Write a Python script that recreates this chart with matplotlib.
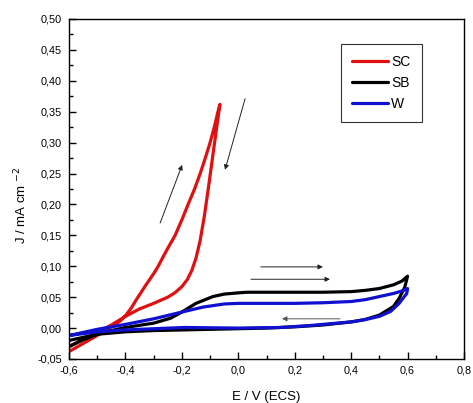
import matplotlib
matplotlib.use("Agg")
import matplotlib.pyplot as plt
from matplotlib.ticker import MultipleLocator, FuncFormatter

plt.rcParams['font.family'] = ['Liberation Sans', 'DejaVu Sans']

# ---- data (E / V vs ECS, J / mA cm-2) ----
sc_fwd_E = [-0.60, -0.55, -0.50, -0.45, -0.42, -0.40, -0.38, -0.36, -0.33, -0.30, -0.284, -0.255,
            -0.224, -0.20, -0.178, -0.155, -0.135, -0.117, -0.10, -0.085, -0.072, -0.065]
sc_fwd_J = [-0.038, -0.025, -0.012, 0.002, 0.011, 0.020, 0.032, 0.047, 0.068, 0.088, 0.100, 0.125,
            0.150, 0.175, 0.200, 0.225, 0.250, 0.275, 0.300, 0.325, 0.350, 0.362]
sc_bwd_E = [-0.065, -0.075, -0.09, -0.105, -0.12, -0.135, -0.15, -0.165, -0.18, -0.20, -0.225,
            -0.25, -0.30, -0.35, -0.40, -0.45, -0.50, -0.55, -0.60]
sc_bwd_J = [0.362, 0.330, 0.280, 0.230, 0.182, 0.142, 0.113, 0.093, 0.079, 0.067, 0.057,
            0.050, 0.040, 0.031, 0.019, 0.005, -0.007, -0.018, -0.030]

sb_fwd_E = [-0.60, -0.55, -0.50, -0.45, -0.40, -0.30, -0.24, -0.20, -0.15, -0.09, -0.05, 0.00,
            0.03, 0.10, 0.20, 0.30, 0.40, 0.45, 0.50, 0.55, 0.58, 0.60]
sb_fwd_J = [-0.030, -0.019, -0.010, -0.004, 0.001, 0.008, 0.016, 0.026, 0.040, 0.051, 0.055, 0.057,
            0.058, 0.058, 0.058, 0.058, 0.059, 0.061, 0.064, 0.070, 0.076, 0.084]
sb_bwd_E = [0.60, 0.59, 0.57, 0.55, 0.50, 0.45, 0.40, 0.30, 0.20, 0.10, 0.00, -0.10, -0.20,
            -0.30, -0.40, -0.50, -0.60]
sb_bwd_J = [0.084, 0.066, 0.048, 0.035, 0.021, 0.014, 0.010, 0.005, 0.002, 0.000, -0.001, -0.002,
            -0.003, -0.004, -0.006, -0.010, -0.020]

w_fwd_E = [-0.60, -0.50, -0.40, -0.30, -0.19, -0.125, -0.05, 0.00, 0.10, 0.20, 0.30, 0.40,
           0.45, 0.50, 0.55, 0.58, 0.60]
w_fwd_J = [-0.012, -0.002, 0.006, 0.015, 0.027, 0.034, 0.039, 0.040, 0.040, 0.040, 0.041, 0.043,
           0.046, 0.051, 0.056, 0.060, 0.064]
w_bwd_E = [0.60, 0.597, 0.57, 0.54, 0.50, 0.443, 0.40, 0.325, 0.25, 0.148, 0.00, -0.19,
           -0.30, -0.40, -0.50, -0.60]
w_bwd_J = [0.064, 0.056, 0.040, 0.027, 0.019, 0.013, 0.010, 0.007, 0.004, 0.001, 0.000, 0.001,
           -0.001, -0.003, -0.006, -0.012]

labels = ["SC", "SB", "W"]
colors = ["#e01010", "#000000", "#1010d0"]

x_ticks = [-0.6, -0.4, -0.2, 0.0, 0.2, 0.4, 0.6, 0.8]
y_ticks = [-0.05, 0.00, 0.05, 0.10, 0.15, 0.20, 0.25, 0.30, 0.35, 0.40, 0.45, 0.50]

fig = plt.figure(figsize=(4.73, 4.03), dpi=100)
ax = fig.add_axes([69/473, 1-359/403, (464-69)/473, (359-19)/403])

series = [(sc_fwd_E + sc_bwd_E, sc_fwd_J + sc_bwd_J),
          (sb_fwd_E + sb_bwd_E, sb_fwd_J + sb_bwd_J),
          (w_fwd_E + w_bwd_E, w_fwd_J + w_bwd_J)]
for (E, J), lab, c in zip(series, labels, colors):
    ax.plot(E, J, color=c, lw=2.3, label=lab, solid_joinstyle='round', solid_capstyle='round')

ax.set_xlim(-0.6, 0.8)
ax.set_ylim(-0.05, 0.50)
ax.set_xticks(x_ticks)
ax.set_yticks(y_ticks)
ax.xaxis.set_minor_locator(MultipleLocator(0.1))
ax.yaxis.set_minor_locator(MultipleLocator(0.025))

ax.xaxis.set_major_formatter(FuncFormatter(lambda v, p: ('%.1f' % v).replace('.', ',')))
ax.yaxis.set_major_formatter(FuncFormatter(
    lambda v, p: ('%.2f' % v).replace('.', ',').replace('-0,00', '0,00')))

ax.tick_params(which='both', direction='in', top=False, right=False)
ax.tick_params(which='major', length=5, width=1, labelsize=7.8, pad=5)
ax.tick_params(which='minor', length=3, width=1)
for s in ax.spines.values():
    s.set_linewidth(1.0)

ax.set_xlabel("E / V (ECS)", fontsize=9.5, va='top')
ax.xaxis.set_label_coords(0.5, -0.094)
ax.set_ylabel("J / mA cm $^{-2}$", fontsize=9.5, va='center')
ax.yaxis.set_label_coords(-0.1215, 0.453)

# scan direction arrows
arr = dict(arrowstyle='-|>', lw=0.7, color='#222222', mutation_scale=7, shrinkA=0, shrinkB=0)
arr2 = dict(arr, color='#555555')
ax.annotate('', xy=(-0.199, 0.264), xytext=(-0.277, 0.170), arrowprops=arr)
ax.annotate('', xy=(-0.047, 0.256), xytext=(0.024, 0.371), arrowprops=arr)
ax.annotate('', xy=(0.30, 0.099), xytext=(0.08, 0.099), arrowprops=arr)
ax.annotate('', xy=(0.325, 0.079), xytext=(0.045, 0.079), arrowprops=arr)
ax.annotate('', xy=(0.155, 0.015), xytext=(0.36, 0.015), arrowprops=arr2)

leg = ax.legend(loc='upper left', bbox_to_anchor=(0.689, 0.926), fontsize=10,
                frameon=True, fancybox=False, edgecolor='#333333', framealpha=1,
                handlelength=2.6, handletextpad=0.2, labelspacing=0.5,
                borderpad=0.8, borderaxespad=0)
leg.get_frame().set_linewidth(0.8)

fig.savefig("out.png", dpi=100)
